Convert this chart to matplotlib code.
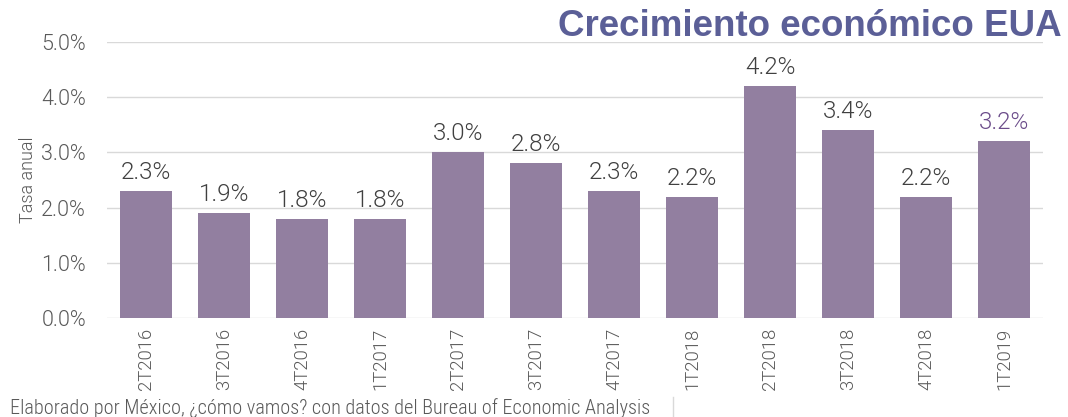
import matplotlib
matplotlib.use("Agg")
import matplotlib.pyplot as plt
from matplotlib.ticker import FuncFormatter
from matplotlib.lines import Line2D

categories = ["2T2016", "3T2016", "4T2016", "1T2017", "2T2017", "3T2017",
              "4T2017", "1T2018", "2T2018", "3T2018", "4T2018", "1T2019"]
values = [2.3, 1.9, 1.8, 1.8, 3.0, 2.8, 2.3, 2.2, 4.2, 3.4, 2.2, 3.2]
yticks = [0, 1, 2, 3, 4, 5]

bar_color = "#927fa0"
text_gray = "#595959"
light_fam = ["Roboto", "Liberation Sans"]
cond_fam = ["Roboto Condensed", "Liberation Sans"]
LW = 300

fig = plt.figure(figsize=(10.68, 4.17), dpi=100)
ax = fig.add_axes([107/1068, 1 - 318/417, (1043-107)/1068, (318-42)/417])

x = list(range(len(categories)))
ax.bar(x, values, width=0.667, color=bar_color, zorder=3)
ax.set_xlim(-0.5, len(categories) - 0.5)
ax.set_ylim(0, 5)
ax.set_yticks(yticks)
ax.yaxis.set_major_formatter(FuncFormatter(lambda v, p: f"{v:.1f}%"))
ax.grid(axis="y", color="#d9d9d9", linewidth=1, zorder=0)
for s in ax.spines.values():
    s.set_visible(False)
ax.tick_params(axis="both", length=0, colors=text_gray)
ax.set_xticks(x)
ax.set_xticklabels(categories, rotation=90, fontsize=13.3, color=text_gray,
                   family=light_fam, fontweight=LW)
for lab in ax.get_yticklabels():
    lab.set_fontsize(15.5)
    lab.set_family(light_fam)
    lab.set_fontweight(LW)
ax.tick_params(axis="y", pad=15)
ax.tick_params(axis="x", pad=7)
ax.set_ylabel("Tasa anual", fontsize=13, color=text_gray,
              family=light_fam, fontweight=LW, labelpad=3)

for i, (xi, v) in enumerate(zip(x, values)):
    col = "#6b4c8a" if i == len(values) - 1 else "#404040"
    ax.annotate(f"{v:.1f}%", (xi, v), xytext=(0, 5), textcoords="offset points",
                ha="center", va="bottom", fontsize=17.5, color=col,
                family=light_fam, fontweight=LW)

fig.text(1062/1068, 1 - 27/417, "Crecimiento económico EUA", ha="right", va="center",
         fontsize=26.5, fontweight="bold", color="#5b5f97", family="Liberation Sans")
fig.text(10/1068, 1 - 408/417, "Elaborado por México, ¿cómo vamos? con datos del Bureau of Economic Analysis",
         ha="left", va="center", fontsize=14.6, color=text_gray,
         family=cond_fam, fontweight=LW)
fig.add_artist(Line2D([673/1068, 673/1068], [0, 20/417], color="#d9d9d9", lw=1))

fig.savefig("out.png", dpi=100)
